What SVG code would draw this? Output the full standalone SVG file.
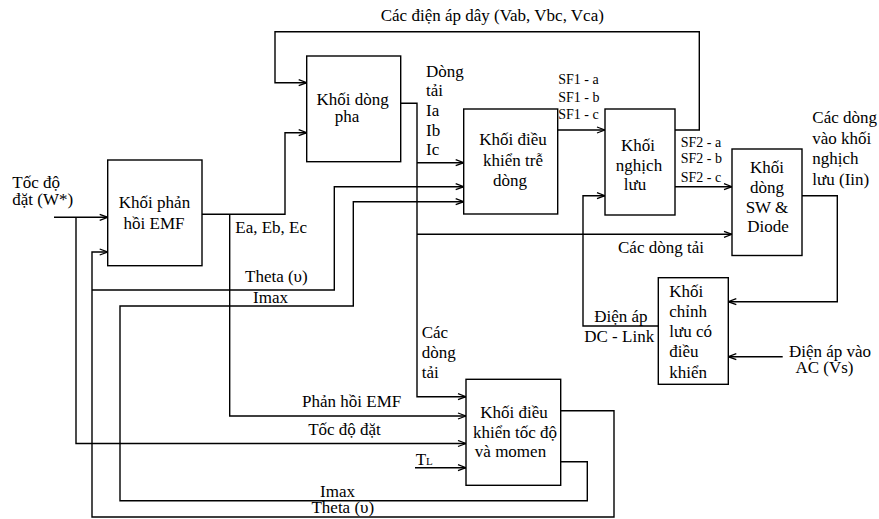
<svg xmlns="http://www.w3.org/2000/svg" width="879" height="519" viewBox="0 0 879 519">
<defs>
<marker id="ah" markerWidth="10" markerHeight="8" refX="9" refY="4" orient="auto" markerUnits="userSpaceOnUse">
<path d="M1,1 L9,4 L1,7" fill="none" stroke="#000" stroke-width="1.3"/>
</marker>
</defs>
<style>
text{font-family:"Liberation Serif","Times New Roman",serif;font-size:17px;fill:#000}
.s{font-size:14px}
.c{text-anchor:middle}
rect{fill:#fff;stroke:#000;stroke-width:1.4}
#connectors path{fill:none;stroke:#000;stroke-width:1.4}
.a{marker-end:url(#ah)}
</style>
<rect width="879" height="519" style="fill:#fff;stroke:none"/>
<g id="connectors">
<path class="a" d="M54,217.3 H107.7"/>
<path class="a" d="M76,217.3 V443.5 H466"/>
<path class="a" d="M202,214.3 H285 V132.7 H306.7"/>
<path class="a" d="M229.7,214.3 V416 H466"/>
<path class="a" d="M675,130 H699.3 V31.7 H275 V82.7 H306.7"/>
<path class="a" d="M400.7,103.3 H417 V396.7 H466"/>
<path class="a" d="M417,162.7 H463.7"/>
<path class="a" d="M417,234.3 H732"/>
<path class="a" d="M557.7,130 H605"/>
<path class="a" d="M675,186.7 H732"/>
<path class="a" d="M802,195.7 H837.3 V301.7 H728.3"/>
<path class="a" d="M782.7,356.7 H728.3"/>
<path class="a" d="M658.3,326 H583 V195.7 H605"/>
<path class="a" d="M560.7,410.7 H614 V517 H92 V252 H107.7"/>
<path class="a" d="M92,290 H334.3 V186.7 H463.7"/>
<path class="a" d="M560.7,461.7 H587.3 V500.7 H120 V306 H353.3 V201.7 H463.7"/>
<path class="a" d="M415,467.7 H466"/>
</g>
<g id="emf">
<rect x="107.7" y="160" width="94.3" height="105.7"/>
<text x="154.5" y="208.3" class="c">Khối phản</text>
<text x="154" y="229.3" class="c">hồi EMF</text>
</g>
<g id="phase">
<rect x="306.7" y="56" width="94" height="105.7"/>
<text x="352.5" y="105" class="c">Khối dòng</text>
<text x="347" y="122" class="c">pha</text>
</g>
<g id="hysteresis">
<rect x="463.7" y="109" width="94" height="105"/>
<text x="513" y="145" class="c">Khối điều</text>
<text x="513" y="166" class="c">khiển trễ</text>
<text x="510" y="186" class="c">dòng</text>
</g>
<g id="inverter">
<rect x="605" y="109" width="70" height="106"/>
<text x="638" y="151" class="c">Khối</text>
<text x="639" y="170.5" class="c">nghịch</text>
<text x="635" y="190" class="c">lưu</text>
</g>
<g id="swdiode">
<rect x="732" y="149" width="70" height="106.5"/>
<text x="767" y="173" class="c">Khối</text>
<text x="767" y="193" class="c">dòng</text>
<text x="767" y="212.5" class="c">SW &amp;</text>
<text x="768" y="231.7" class="c">Diode</text>
</g>
<g id="rectifier">
<rect x="658.3" y="277.7" width="70" height="106.6"/>
<text x="669.3" y="296.7">Khối</text>
<text x="669.3" y="316.7">chỉnh</text>
<text x="669.3" y="337">lưu có</text>
<text x="669.3" y="357">điều</text>
<text x="669.3" y="378">khiển</text>
</g>
<g id="speed">
<rect x="466" y="379.3" width="94.7" height="106"/>
<text x="514" y="418.3" class="c">Khối điều</text>
<text x="515" y="438.3" class="c">khiển tốc độ</text>
<text x="510.5" y="456.7" class="c">và momen</text>
</g>
<g id="labels">
<text x="12.3" y="188.3">Tốc độ</text>
<text x="12.3" y="205">đặt (W*)</text>
<text x="492.3" y="20.5" class="c">Các điện áp dây (Vab, Vbc, Vca)</text>
<text x="235.3" y="233">Ea, Eb, Ec</text>
<text x="426" y="76.5">Dòng</text>
<text x="426" y="96">tải</text>
<text x="426" y="116">Ia</text>
<text x="426" y="135.5">Ib</text>
<text x="426" y="155">Ic</text>
<text x="558.3" y="84.3" class="s">SF1 - a</text>
<text x="558.3" y="101.7" class="s">SF1 - b</text>
<text x="558.3" y="119.3" class="s">SF1 - c</text>
<text x="680.7" y="146.7" class="s">SF2 - a</text>
<text x="680.7" y="163.3" class="s">SF2 - b</text>
<text x="680.7" y="181.7" class="s">SF2 - c</text>
<text x="812.3" y="123.3">Các dòng</text>
<text x="812.3" y="144">vào khối</text>
<text x="812.3" y="163.5">nghịch</text>
<text x="812.3" y="185">lưu (Iin)</text>
<text x="661" y="252.5" class="c">Các dòng tải</text>
<text x="620.8" y="321.7" class="c">Điện áp</text>
<text x="619.2" y="341.7" class="c">DC - Link</text>
<text x="830" y="356.7" class="c">Điện áp vào</text>
<text x="824.5" y="373.3" class="c">AC (Vs)</text>
<text x="245" y="282.3">Theta (υ)</text>
<text x="253" y="303.3">Imax</text>
<text x="421.7" y="338.3">Các</text>
<text x="421.7" y="358.3">dòng</text>
<text x="421.7" y="378.3">tải</text>
<text x="351.7" y="406.7" class="c">Phản hồi EMF</text>
<text x="344.5" y="435" class="c">Tốc độ đặt</text>
<text x="415.7" y="465">T<tspan style="font-size:11px">L</tspan></text>
<text x="337.5" y="496.7" class="c">Imax</text>
<text x="342.8" y="512.7" class="c">Theta (υ)</text>
</g>
</svg>
